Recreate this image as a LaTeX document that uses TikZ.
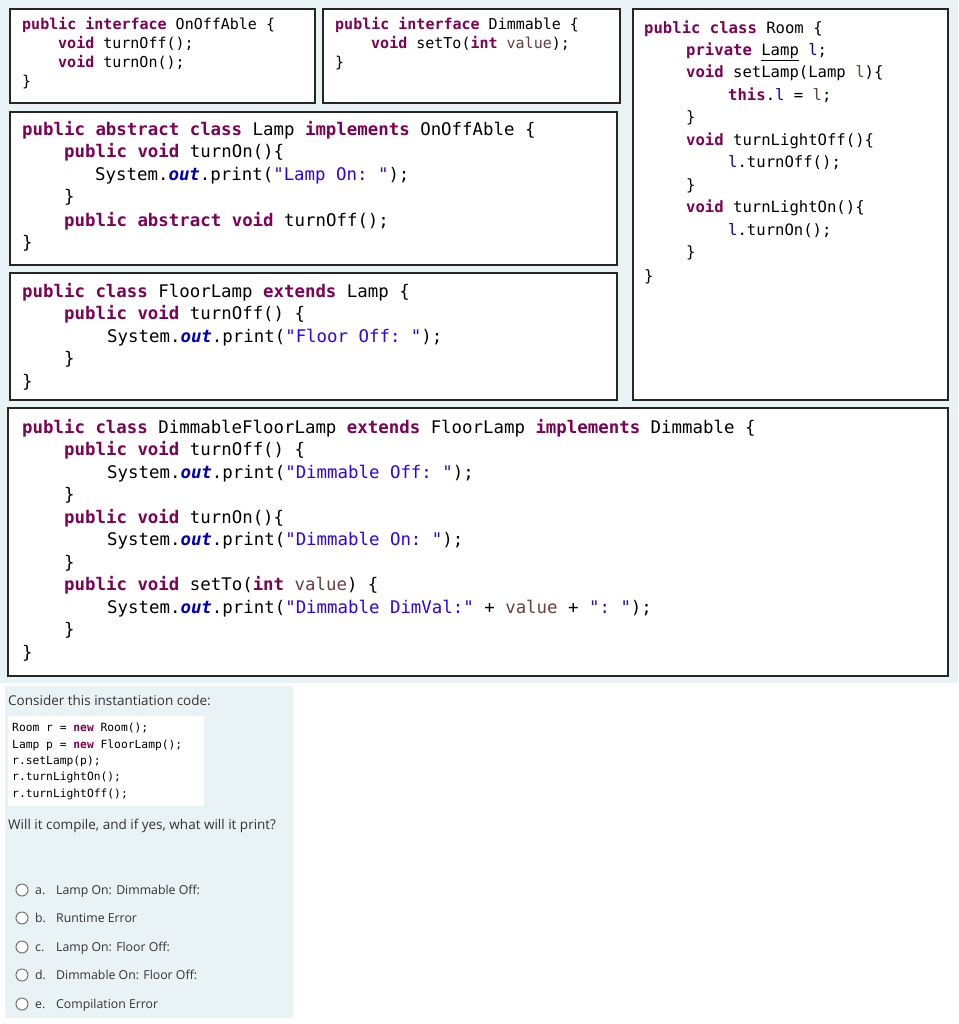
\documentclass[tikz,border=0pt]{standalone}
\usepackage{fontspec}
\setmainfont{Open Sans}
\setmonofont{DejaVu Sans Mono}
\definecolor{kwc}{HTML}{7F0055}
\definecolor{strc}{HTML}{2A00FF}
\definecolor{outc}{HTML}{0000C0}
\definecolor{prmc}{HTML}{6A3E3E}
\definecolor{bgc}{HTML}{E9F3F5}
\definecolor{txtc}{HTML}{333333}
\newcommand{\kw}[1]{\textcolor{kwc}{\bfseries #1}}
\newcommand{\strg}[1]{\textcolor{strc}{#1}}
\newcommand{\outt}{\textcolor{outc}{\bfseries\itshape out}}
\newcommand{\prm}[1]{\textcolor{prmc}{#1}}
\newcommand{\fld}[1]{\textcolor{outc}{#1}}
\begin{document}
\begin{tikzpicture}[x=1pt,y=-1pt,
  box/.style={draw=black!85,line width=1.6pt,fill=white},
  big/.style={anchor=base west,inner sep=0pt,font=\fontsize{17.4}{20}\ttfamily},
  mid/.style={anchor=base west,inner sep=0pt,font=\fontsize{15.6}{18}\ttfamily},
  sml/.style={anchor=base west,inner sep=0pt,font=\fontsize{15}{18}\ttfamily},
  tiny/.style={anchor=base west,inner sep=0pt,font=\fontsize{11.3}{13}\ttfamily},
  qtxt/.style={anchor=base west,inner sep=0pt,text=txtc,font=\fontsize{13.5}{16}\selectfont},
  opt/.style={anchor=base west,inner sep=0pt,text=txtc,font=\fontsize{12.3}{15}\selectfont},
  radio/.style={circle,draw=black!55,line width=1pt,minimum size=12pt,inner sep=0pt}]
\useasboundingbox (0,0) rectangle (958,1024);
\fill[white] (0,0) rectangle (958,1024);
\fill[bgc] (0,0) rectangle (958,683);
\fill[bgc] (5,686) rectangle (293,1018);
% boxes
\draw[box] (10,9) rectangle (315,103);
\draw[box] (323,9) rectangle (620,103);
\draw[box] (633,9) rectangle (948,400);
\draw[box] (10,112) rectangle (617,265);
\draw[box] (10,273) rectangle (617,400);
\draw[box] (8,408) rectangle (948,676);
% OnOffAble
\node[sml] (a1) at (22,30) {\kw{public interface} OnOffAble \{};
\node[sml] (a2) at (58,49) {\kw{void} turnOff();};
\node[sml] (a3) at (58,68) {\kw{void} turnOn();};
\node[sml] (a4) at (22,87) {\}};
% Dimmable
\node[sml] (b1) at (335,30) {\kw{public interface} Dimmable \{};
\node[sml] (b2) at (371,49) {\kw{void} setTo(\kw{int} \prm{value});};
\node[sml] (b3) at (335,68) {\}};
% Room
\node[mid] (r1) at (644,34) {\kw{public class} Room \{};
\node[mid] (r2) at (686,56) {\kw{private} \underline{Lamp} \fld{l};};
\node[mid] (r3) at (686,78) {\kw{void} setLamp(Lamp \prm{l})\{};
\node[mid] (r4) at (728,101) {\kw{this}.\fld{l} = \prm{l};};
\node[mid] (r5) at (686,123) {\}};
\node[mid] (r6) at (686,146) {\kw{void} turnLightOff()\{};
\node[mid] (r7) at (728,168) {\fld{l}.turnOff();};
\node[mid] (r8) at (686,191) {\}};
\node[mid] (r9) at (686,213) {\kw{void} turnLightOn()\{};
\node[mid] (r10) at (728,236) {\fld{l}.turnOn();};
\node[mid] (r11) at (686,258) {\}};
\node[mid] (r12) at (644,281) {\}};
% Lamp
\node[big] (l1) at (22,136) {\kw{public abstract class} Lamp \kw{implements} OnOffAble \{};
\node[big] (l2) at (64,158) {\kw{public void} turnOn()\{};
\node[big] (l3) at (95,181) {System.\outt.print(\strg{"Lamp On: "});};
\node[big] (l4) at (64,203) {\}};
\node[big] (l5) at (64,226) {\kw{public abstract void} turnOff();};
\node[big] (l6) at (22,248) {\}};
% FloorLamp
\node[big] (f1) at (22,297) {\kw{public class} FloorLamp \kw{extends} Lamp \{};
\node[big] (f2) at (64,319) {\kw{public void} turnOff() \{};
\node[big] (f3) at (107,342) {System.\outt.print(\strg{"Floor Off: "});};
\node[big] (f4) at (64,364) {\}};
\node[big] (f5) at (22,387) {\}};
% DimmableFloorLamp
\node[big] (d1) at (22,433) {\kw{public class} DimmableFloorLamp \kw{extends} FloorLamp \kw{implements} Dimmable \{};
\node[big] (d2) at (64,455) {\kw{public void} turnOff() \{};
\node[big] (d3) at (107,478) {System.\outt.print(\strg{"Dimmable Off: "});};
\node[big] (d4) at (64,500) {\}};
\node[big] (d5) at (64,523) {\kw{public void} turnOn()\{};
\node[big] (d6) at (107,545) {System.\outt.print(\strg{"Dimmable On: "});};
\node[big] (d7) at (64,568) {\}};
\node[big] (d8) at (64,590) {\kw{public void} setTo(\kw{int} \prm{value}) \{};
\node[big] (d9) at (107,613) {System.\outt.print(\strg{"Dimmable DimVal:"} + \prm{value} + \strg{": "});};
\node[big] (d10) at (64,635) {\}};
\node[big] (d11) at (22,658) {\}};
% question panel
\node[qtxt] (q1) at (8,705) {Consider this instantiation code:};
\fill[white] (8,716) rectangle (204,806);
\node[tiny] (c1) at (12,731) {Room r = \kw{new} Room();};
\node[tiny] (c2) at (12,748) {Lamp p = \kw{new} FloorLamp();};
\node[tiny] (c3) at (12,764) {r.setLamp(p);};
\node[tiny] (c4) at (12,780) {r.turnLightOn();};
\node[tiny] (c5) at (12,797) {r.turnLightOff();};
\node[qtxt] (q2) at (8,829) {Will it compile, and if yes, what will it print?};
\foreach \yy/\ll/\tt [count=\i] in {890/a./Lamp On: Dimmable Off:,918/b./Runtime Error,947/c./Lamp On: Floor Off:,975/d./Dimmable On: Floor Off:,1004/e./Compilation Error}{
  \node[radio,fill=white] (rb\i) at (22,\yy) {};
  \node[opt] (ol\i) at (35,\yy+4.5) {\ll};
  \node[opt] (ot\i) at (56,\yy+4.5) {\tt};
}
\end{tikzpicture}
\end{document}
